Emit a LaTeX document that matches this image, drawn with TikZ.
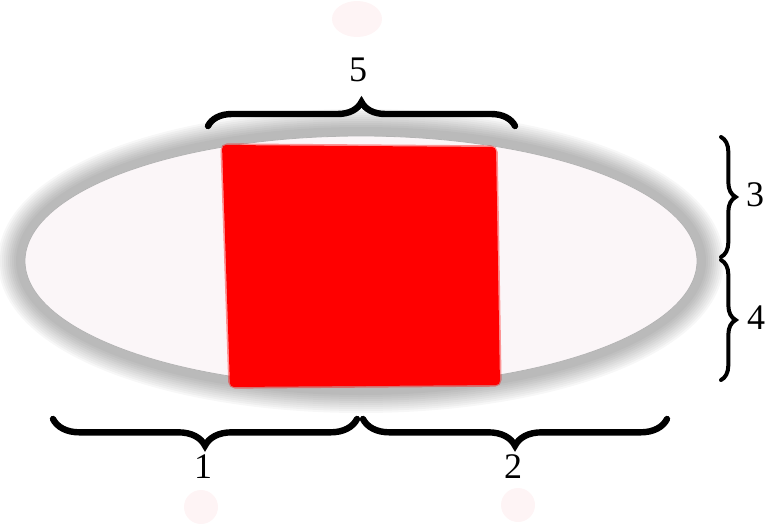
\documentclass[tikz,border=0pt]{standalone}
\usepackage{fontspec}
\setmainfont{Liberation Serif}
\usetikzlibrary{decorations.pathreplacing}
\definecolor{pinkfill}{RGB}{251,246,248}
\definecolor{dotpink}{RGB}{254,244,245}
\definecolor{edgegray}{RGB}{180,180,180}
\tikzset{
  x=0.75pt, y=-0.75pt,
  bigbrace/.style={draw, line width=4.8pt, line cap=round, decorate, decoration={brace, amplitude=#1}},
  smallbrace/.style={draw, line width=3pt, line cap=round, decorate, decoration={brace, amplitude=#1}},
  numlabel/.style={font=\fontsize{27}{27}\selectfont, inner sep=0pt},
}
\begin{document}
\begin{tikzpicture}
\useasboundingbox (0,0) rectangle (768,529);
% faint dots
\fill[dotpink] (357,19) ellipse [x radius=25, y radius=18];
\fill[dotpink] (201,507) circle [radius=17];
\fill[dotpink] (518,505) circle [radius=17];
% blurred shadow ring
\foreach \w in {46,42,38,34,30,26,22,18,14,10} {
  \draw[black, opacity=0.03, line width=\w*0.75pt] (361,261) ellipse [x radius=340, y radius=129];
}
% ellipse body
\draw[edgegray, line width=0.6pt, fill=pinkfill] (361,261) ellipse [x radius=336, y radius=125];
% red square
\coordinate (r1) at (222,145);
\coordinate (r2) at (496,147);
\coordinate (r3) at (500,385);
\coordinate (r4) at (230,387);
\fill[red, rounded corners=3pt] (r1) -- (r2) -- (r3) -- (r4) -- cycle;
\draw[red, opacity=0.4, line width=2.5pt, rounded corners=4pt] (r1) -- (r2) -- (r3) -- (r4) -- cycle;
% brace end points
\coordinate (t1) at (208,126);
\coordinate (t2) at (515,126);
\coordinate (b1s) at (357,419);
\coordinate (b1e) at (53,419);
\coordinate (b2s) at (667,419);
\coordinate (b2e) at (363,419);
\coordinate (s3a) at (721,137);
\coordinate (s3b) at (721,257);
\coordinate (s4a) at (721,260);
\coordinate (s4b) at (721,380);
% braces
\path[bigbrace=18pt] (t1) -- (t2);
\path[bigbrace=20pt] (b1s) -- (b1e);
\path[bigbrace=20pt] (b2s) -- (b2e);
\path[smallbrace=11pt] (s3a) -- (s3b);
\path[smallbrace=11pt] (s4a) -- (s4b);
% labels
\node[numlabel] (l5) at (358,70) {5};
\node[numlabel] (l1) at (203,467) {1};
\node[numlabel] (l2) at (513,467) {2};
\node[numlabel] (l3) at (755,195) {3};
\node[numlabel] (l4) at (756,318) {4};
\end{tikzpicture}
\end{document}
